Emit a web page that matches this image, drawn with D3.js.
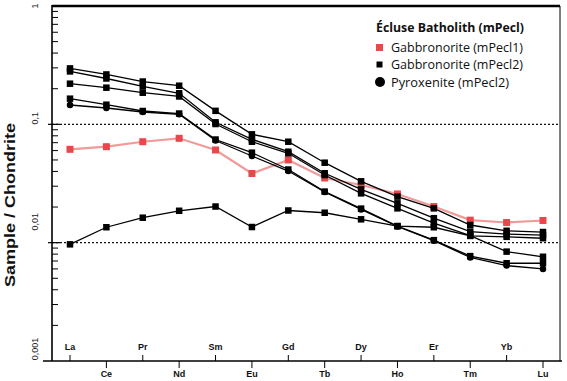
<!DOCTYPE html>
<html><head><meta charset="utf-8">
<script src="https://cdn.jsdelivr.net/npm/d3@7"></script>
<style>html,body{margin:0;padding:0;background:#fff}svg{display:block}</style>
</head><body>
<svg id="c" width="567" height="381"></svg>
<script>
const elements = ["La","Ce","Pr","Nd","Sm","Eu","Gd","Tb","Dy","Ho","Er","Tm","Yb","Lu"];
const yTickValues = [1, 0.1, 0.01, 0.001];
const yTickLabels = ["1", "0,1", "0,01", "0,001"];
const legendTitle = "Écluse Batholith (mPecl)";
const legendLabels = ["Gabbronorite (mPecl1)", "Gabbronorite (mPecl2)", "Pyroxenite (mPecl2)"];
const yTitle = "Sample / Chondrite";

// Gabbronorite (mPecl1) - red
const gabbroMPecl1 = [0.0615,0.0647,0.0713,0.0762,0.0607,0.0384,0.0500,0.0352,0.0307,0.0258,0.0202,0.0155,0.0148,0.0154];
// Gabbronorite (mPecl2) - black squares
const gabbroMPecl2a = [0.297,0.264,0.230,0.212,0.130,0.0823,0.0713,0.0474,0.0330,0.0245,0.0195,0.0141,0.0126,0.0123];
const gabbroMPecl2b = [0.280,0.244,0.209,0.183,0.104,0.0747,0.0587,0.0386,0.0282,0.0215,0.0161,0.0124,0.0118,0.0116];
const gabbroMPecl2c = [0.2205,0.204,0.185,0.172,0.1006,0.0713,0.0569,0.0373,0.0261,0.0195,0.0146,0.01145,0.0084,0.0076];
const gabbroMPecl2d = [0.1647,0.1465,0.1296,0.1234,0.0744,0.0576,0.0415,0.0270,0.0194,0.0138,0.0105,0.0077,0.0067,0.0067];
const gabbroMPecl2e = [0.00968,0.0135,0.01625,0.0186,0.0202,0.01356,0.0187,0.0179,0.01575,0.0138,0.0135,0.0114,0.0112,0.0109];
// Pyroxenite (mPecl2) - black circles
const pyroxMPecl2 = [0.1457,0.1374,0.1271,0.1216,0.0730,0.0540,0.0403,0.0268,0.0191,0.0137,0.0104,0.0075,0.0064,0.0060];

const svg = d3.select("#c");
const L = 52, R = 560, T = 6, B = 361;
const x = d3.scalePoint().domain(elements).range([70, 543]);
const y = d3.scaleLog().domain([0.001, 1]).range([B, T]);

// dotted reference lines
[0.1, 0.01].forEach(v => {
  svg.append("line").attr("x1", L).attr("x2", R).attr("y1", y(v)).attr("y2", y(v))
    .attr("stroke", "#111").attr("stroke-width", 1.2).attr("stroke-dasharray", "2,2");
});

// frame
svg.append("line").attr("x1", L).attr("x2", R).attr("y1", T).attr("y2", T).attr("stroke", "#000").attr("stroke-width", 2.5);
svg.append("line").attr("x1", R).attr("x2", R).attr("y1", T).attr("y2", B).attr("stroke", "#000").attr("stroke-width", 1);
svg.append("line").attr("x1", L).attr("x2", L).attr("y1", T - 1).attr("y2", B).attr("stroke", "#000").attr("stroke-width", 1.6);
svg.append("line").attr("x1", 43).attr("x2", 562).attr("y1", B).attr("y2", B).attr("stroke", "#000").attr("stroke-width", 1.6);

// y minor ticks
const minors = [];
[1, 0.1, 0.01].forEach(d => { for (let k = 2; k <= 9; k++) minors.push(d * k / 10); });
svg.selectAll(".ymin").data(minors).enter().append("line")
  .attr("x1", L).attr("x2", L + 6).attr("y1", d => y(d)).attr("y2", d => y(d))
  .attr("stroke", "#000").attr("stroke-width", 1);
svg.selectAll(".ymaj").data([0.1, 0.01]).enter().append("line")
  .attr("x1", L - 4).attr("x2", L + 8).attr("y1", d => y(d)).attr("y2", d => y(d))
  .attr("stroke", "#000").attr("stroke-width", 1.2);

// y tick labels (rotated)
const yLabelOffsets = [0, -6, -21, -12];
yTickValues.forEach((v, i) => {
  const cy = Math.min(Math.max(y(v) + yLabelOffsets[i], 5), 360);
  svg.append("text").attr("transform", `translate(38,${cy}) rotate(-90)`)
    .attr("text-anchor", "middle").attr("font-family", "Liberation Sans, Arial, sans-serif")
    .attr("font-size", 9).attr("fill", "#222").text(yTickLabels[i]);
});

// y title
svg.append("text").attr("transform", "translate(15,205) rotate(-90)")
  .attr("text-anchor", "middle").attr("font-family", "Liberation Sans, Arial, sans-serif")
  .attr("font-weight", "bold").attr("font-size", 15.5).attr("fill", "#111")
  .attr("textLength", 164).attr("lengthAdjust", "spacingAndGlyphs").text(yTitle);

// x ticks & labels
elements.forEach((e, i) => {
  const up = i % 2 === 0;
  svg.append("line").attr("x1", x(e)).attr("x2", x(e))
    .attr("y1", B).attr("y2", up ? B - 6 : B + 7).attr("stroke", "#000").attr("stroke-width", 1);
  svg.append("text").attr("x", x(e)).attr("y", up ? 350 : 377)
    .attr("text-anchor", "middle").attr("font-family", "Liberation Sans, Arial, sans-serif")
    .attr("font-weight", "bold").attr("font-size", 9).attr("fill", "#111").text(e);
});

const line = d3.line().x((d, i) => x(elements[i])).y(d => y(d));

function drawSeries(vals, stroke, sw, fill, shape, size) {
  svg.append("path").datum(vals).attr("d", line).attr("fill", "none")
    .attr("stroke", stroke).attr("stroke-width", sw);
  const g = svg.append("g");
  if (shape === "square") {
    g.selectAll("rect").data(vals).enter().append("rect")
      .attr("x", (d, i) => x(elements[i]) - size / 2).attr("y", d => y(d) - size / 2)
      .attr("width", size).attr("height", size).attr("fill", fill);
  } else {
    g.selectAll("circle").data(vals).enter().append("circle")
      .attr("cx", (d, i) => x(elements[i])).attr("cy", d => y(d)).attr("r", size / 2).attr("fill", fill);
  }
}

drawSeries(gabbroMPecl1, "#f09a9a", 2.2, "#e8474c", "square", 7);
[gabbroMPecl2a, gabbroMPecl2b, gabbroMPecl2c, gabbroMPecl2d, gabbroMPecl2e].forEach(s =>
  drawSeries(s, "#000", 1.3, "#000", "square", 6.5));
drawSeries(pyroxMPecl2, "#000", 1.3, "#000", "circle", 6.5);

// legend
const lf = "Open Sans, Lato, sans-serif";
svg.append("text").attr("x", 376).attr("y", 32).attr("font-family", lf).attr("font-weight", "bold")
  .attr("font-size", 12.5).attr("fill", "#111").attr("textLength", 148).attr("lengthAdjust", "spacingAndGlyphs").text(legendTitle);
const ly = [47.5, 64.5, 82];
svg.append("rect").attr("x", 376).attr("y", ly[0] - 3.5).attr("width", 7).attr("height", 7).attr("fill", "#e8474c");
svg.append("rect").attr("x", 376.5).attr("y", ly[1] - 3).attr("width", 6).attr("height", 6).attr("fill", "#000");
svg.append("circle").attr("cx", 380).attr("cy", ly[2]).attr("r", 5).attr("fill", "#000");
const legendWidths = [132, 132, 118];
legendLabels.forEach((t, i) => {
  svg.append("text").attr("x", 391).attr("y", ly[i] + 4.5).attr("font-family", lf)
    .attr("font-size", 13).attr("fill", "#111")
    .attr("textLength", legendWidths[i]).attr("lengthAdjust", "spacingAndGlyphs").text(t);
});
</script>
</body></html>
